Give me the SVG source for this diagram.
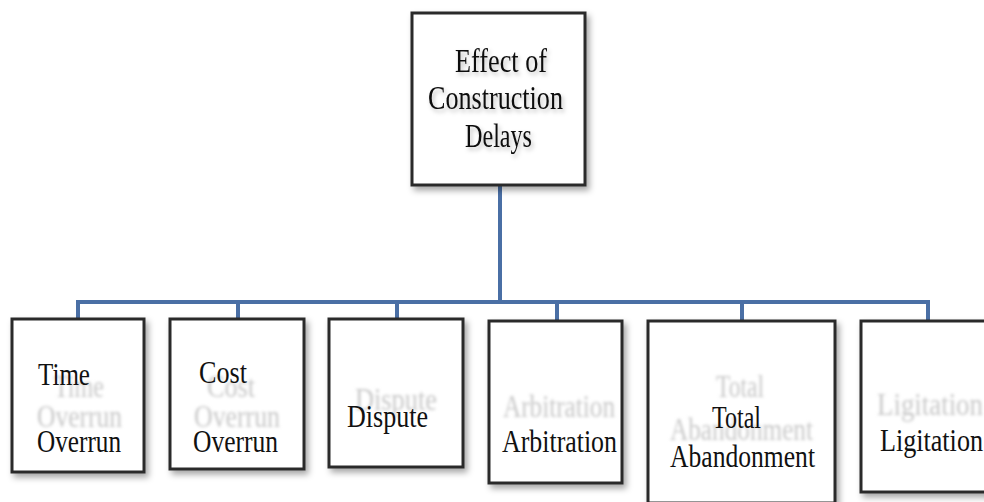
<svg xmlns="http://www.w3.org/2000/svg" width="984" height="502" viewBox="0 0 984 502">
  <defs>
    <filter id="shadow" x="-10%" y="-10%" width="130%" height="130%">
      <feDropShadow dx="3" dy="4" stdDeviation="3" flood-color="#000" flood-opacity="0.35"/>
    </filter>
    <filter id="tshadow" x="-10%" y="-20%" width="130%" height="150%">
      <feDropShadow dx="2" dy="3" stdDeviation="2" flood-color="#000" flood-opacity="0.25"/>
    </filter>
    <filter id="blur" x="-10%" y="-30%" width="120%" height="160%">
      <feGaussianBlur stdDeviation="1.6"/>
    </filter>
  </defs>
  <style>
    .box { fill: #ffffff; stroke: #2a2a2a; stroke-width: 3; filter: url(#shadow); }
    text { font-family: 'Liberation Serif', 'Times New Roman', serif; }
    .t { font-size: 31px; fill: #111111; }
    .tt { font-size: 33px; fill: #111111; filter: url(#tshadow); }
    .g { font-size: 31px; fill: #c8c8c8; filter: url(#blur); }
    .c { fill: none; stroke: #4a6fa5; stroke-width: 4; }
  </style>
  <rect width="984" height="502" fill="#ffffff"/>

  <g id="connectors">
    <line class="c" x1="500" y1="185" x2="500" y2="302"/>
    <line class="c" x1="76" y1="302" x2="930" y2="302"/>
    <line class="c" x1="78" y1="300" x2="78" y2="319"/>
    <line class="c" x1="238" y1="300" x2="238" y2="319"/>
    <line class="c" x1="397" y1="300" x2="397" y2="319"/>
    <line class="c" x1="557" y1="300" x2="557" y2="321"/>
    <line class="c" x1="742" y1="300" x2="742" y2="321"/>
    <line class="c" x1="928" y1="300" x2="928" y2="321"/>
  </g>

  <g id="root">
    <rect class="box" x="412" y="13" width="173" height="172"/>
    <text class="tt" x="455" y="72" textLength="92" lengthAdjust="spacingAndGlyphs">Effect of</text>
    <text class="tt" x="428" y="109" textLength="135" lengthAdjust="spacingAndGlyphs">Construction</text>
    <text class="tt" x="465" y="147" textLength="67" lengthAdjust="spacingAndGlyphs">Delays</text>
  </g>

  <g id="time-overrun">
    <rect class="box" x="12" y="319" width="132" height="153"/>
    <text class="g" x="54" y="397" textLength="50" lengthAdjust="spacingAndGlyphs">Time</text>
    <text class="g" x="37" y="427" textLength="85" lengthAdjust="spacingAndGlyphs">Overrun</text>
    <text class="t" x="38" y="385" textLength="52" lengthAdjust="spacingAndGlyphs">Time</text>
    <text class="t" x="37" y="452" textLength="84" lengthAdjust="spacingAndGlyphs">Overrun</text>
  </g>

  <g id="cost-overrun">
    <rect class="box" x="170" y="319" width="134" height="150"/>
    <text class="g" x="207" y="397" textLength="48" lengthAdjust="spacingAndGlyphs">Cost</text>
    <text class="g" x="194" y="427" textLength="86" lengthAdjust="spacingAndGlyphs">Overrun</text>
    <text class="t" x="199" y="383" textLength="48" lengthAdjust="spacingAndGlyphs">Cost</text>
    <text class="t" x="193" y="452" textLength="85" lengthAdjust="spacingAndGlyphs">Overrun</text>
  </g>

  <g id="dispute">
    <rect class="box" x="329" y="319" width="134" height="148"/>
    <text class="g" x="355" y="410" textLength="82" lengthAdjust="spacingAndGlyphs">Dispute</text>
    <text class="t" x="347" y="427" textLength="81" lengthAdjust="spacingAndGlyphs">Dispute</text>
  </g>

  <g id="arbitration">
    <rect class="box" x="489" y="321" width="133" height="162"/>
    <text class="g" x="503" y="417" textLength="112" lengthAdjust="spacingAndGlyphs">Arbitration</text>
    <text class="t" x="502" y="452" textLength="115" lengthAdjust="spacingAndGlyphs">Arbitration</text>
  </g>

  <g id="total-abandonment">
    <rect class="box" x="648" y="321" width="187" height="182"/>
    <text class="g" x="716" y="397" textLength="48" lengthAdjust="spacingAndGlyphs">Total</text>
    <text class="g" x="670" y="440" textLength="143" lengthAdjust="spacingAndGlyphs">Abandonment</text>
    <text class="t" x="712" y="428" textLength="49" lengthAdjust="spacingAndGlyphs">Total</text>
    <text class="t" x="670" y="467" textLength="145" lengthAdjust="spacingAndGlyphs">Abandonment</text>
  </g>

  <g id="ligitation">
    <rect class="box" x="861" y="321" width="135" height="171"/>
    <text class="g" x="877" y="415" textLength="106" lengthAdjust="spacingAndGlyphs">Ligitation</text>
    <text class="t" x="880" y="451" textLength="103" lengthAdjust="spacingAndGlyphs">Ligitation</text>
  </g>
</svg>
